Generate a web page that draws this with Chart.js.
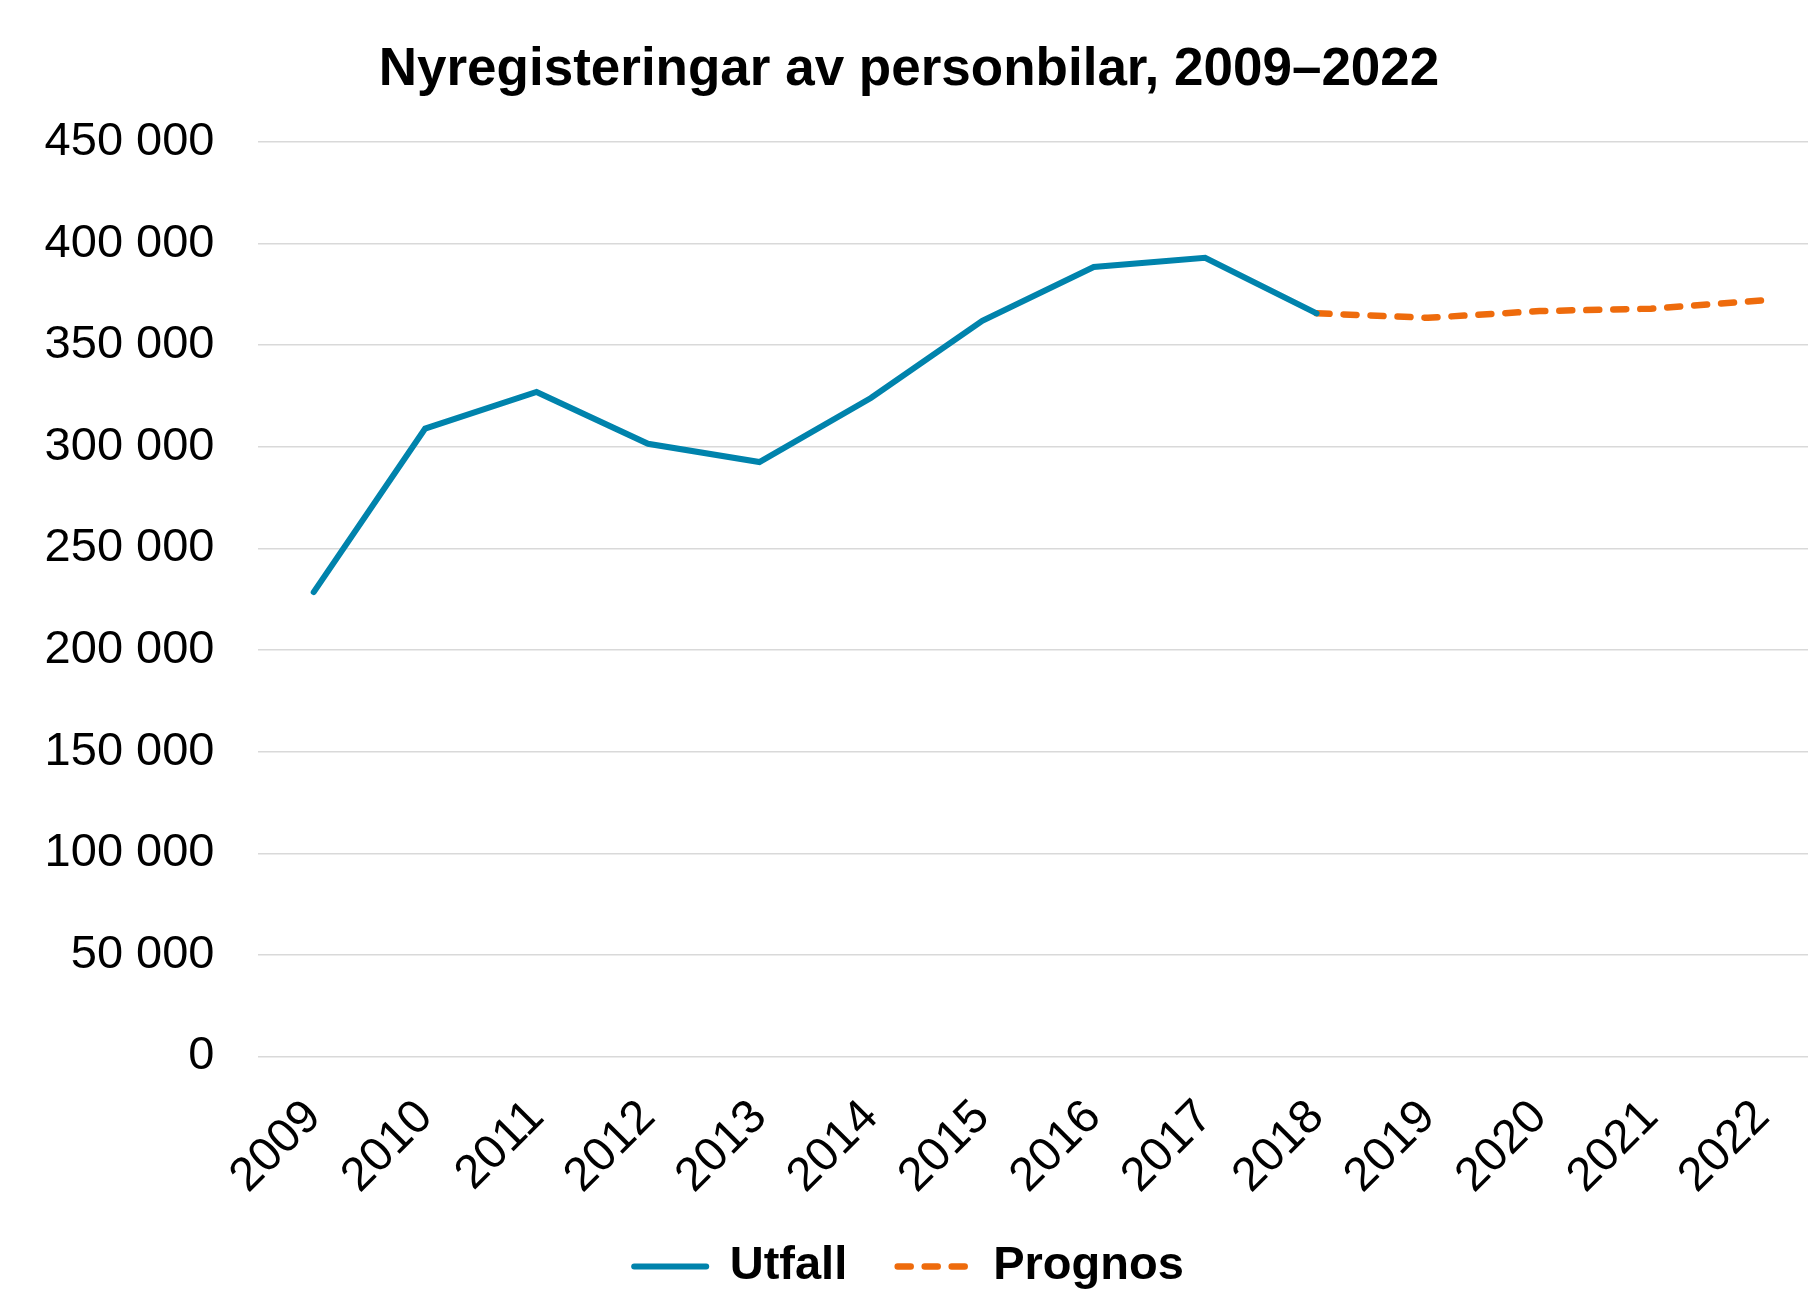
<!DOCTYPE html>
<html>
<head>
<meta charset="utf-8">
<script src="https://cdn.jsdelivr.net/npm/chart.js@4/dist/chart.umd.min.js"></script>
<style>
html, body { margin:0; padding:0; background:#ffffff; overflow:hidden; width:1808px; height:1294px; }
#wrap { position:relative; width:1808px; height:1294px; overflow:hidden; background:#ffffff; }
#c { position:absolute; left:0; top:0; }
</style>
</head>
<body>
<div id="wrap"><canvas id="c" width="1818" height="1300"></canvas></div>
<script>
// ---- data ----
const chartTitle = 'Nyregisteringar av personbilar, 2009–2022';
const categories = ['2009','2010','2011','2012','2013','2014','2015','2016','2017','2018','2019','2020','2021','2022'];
const seriesNames = ['Utfall', 'Prognos'];
const utfall  = [228500, 309000, 327000, 301500, 292500, 324000, 362000, 388500, 393000, 365700, null, null, null, null];
const prognos = [null, null, null, null, null, null, null, null, null, 365700, 363500, 366800, 368000, 372000];
const yTickValues = [0, 50000, 100000, 150000, 200000, 250000, 300000, 350000, 400000, 450000];
const yTickLabels = ['0', '50 000', '100 000', '150 000', '200 000', '250 000', '300 000', '350 000', '400 000', '450 000'];

const FONT = "'Liberation Sans', Arial, Helvetica, sans-serif";
const BLUE = '#0083AC';
const ORANGE = '#EE6B0C';

Chart.defaults.font.family = FONT;
Chart.defaults.color = '#000000';

new Chart(document.getElementById('c'), {
  type: 'line',
  data: {
    labels: categories,
    datasets: [
      {
        label: seriesNames[0],
        data: utfall,
        borderColor: BLUE,
        backgroundColor: BLUE,
        borderWidth: 6,
        borderCapStyle: 'round',
        pointRadius: 0,
        pointHoverRadius: 0,
        tension: 0,
        fill: false
      },
      {
        label: seriesNames[1],
        data: prognos,
        borderColor: ORANGE,
        backgroundColor: ORANGE,
        borderWidth: 6.5,
        borderDash: [13, 14],
        borderCapStyle: 'round',
        pointRadius: 0,
        pointHoverRadius: 0,
        tension: 0,
        fill: false
      }
    ]
  },
  options: {
    responsive: false,
    animation: false,
    devicePixelRatio: 1,
    layout: { padding: { left: 0, right: 0, top: 0, bottom: 0 } },
    plugins: {
      title: {
        display: true,
        text: chartTitle,
        color: '#000000',
        font: { family: FONT, size: 53, weight: 'bold' },
        padding: { top: 39, bottom: 39.4 }
      },
      legend: {
        display: true,
        position: 'bottom',
        labels: {
          usePointStyle: true,
          pointStyle: 'line',
          pointStyleWidth: 72,
          padding: 50.5,
          color: '#000000',
          font: { family: FONT, size: 47, weight: 'bold' },
          generateLabels: (chart) => chart.data.datasets.map((ds, i) => ({
            text: ds.label,
            fillStyle: ds.borderColor,
            strokeStyle: ds.borderColor,
            lineWidth: ds.borderWidth,
            lineDash: ds.borderDash || [],
            lineCap: ds.borderCapStyle || 'butt',
            pointStyle: 'line',
            hidden: false,
            fontColor: '#000000',
            datasetIndex: i
          }))
        }
      },
      tooltip: { enabled: false }
    },
    scales: {
      x: {
        offset: true,
        grid: { display: false, drawTicks: false },
        border: { display: false },
        ticks: {
          color: '#000000',
          font: { family: FONT, size: 47.5 },
          minRotation: 45,
          maxRotation: 45,
          autoSkip: false,
          padding: 33
        },
        afterFit: (scale) => { scale.height = 136; scale.paddingLeft = 0; scale.paddingRight = 0; }
      },
      y: {
        min: 0,
        max: 450000,
        grid: { color: '#D9D9D9', lineWidth: 1.5, drawTicks: false },
        border: { display: false },
        afterBuildTicks: (scale) => { scale.ticks = yTickValues.map(v => ({ value: v })); },
        ticks: {
          color: '#000000',
          font: { family: FONT, size: 47 },
          padding: 43.5,
          callback: (value, index) => yTickLabels[index]
        },
        afterFit: (scale) => { scale.width = 258; }
      }
    }
  }
});
</script>
</body>
</html>
